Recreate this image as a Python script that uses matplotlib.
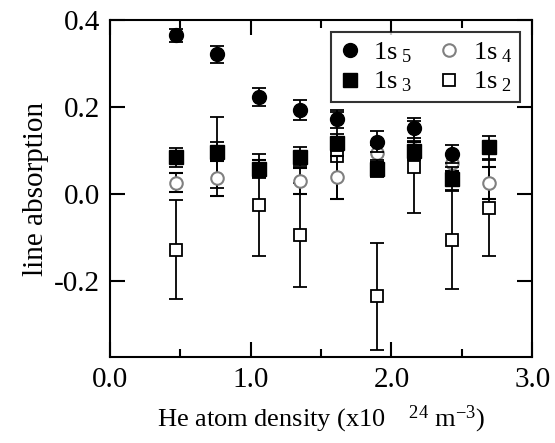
import numpy as np
import matplotlib.pyplot as plt
from matplotlib.ticker import MultipleLocator

plt.rcParams['font.family'] = 'Liberation Serif'
plt.rcParams['mathtext.fontset'] = 'custom'
plt.rcParams['mathtext.rm'] = 'Liberation Serif'
plt.rcParams['mathtext.it'] = 'Liberation Serif'

# densidad de He (x10^24 m^-3)
dens = [0.47, 0.76, 1.06, 1.35, 1.61, 1.90, 2.16, 2.43, 2.69]

# 1s5 (circulo lleno)
x_1s5 = [0.47, 0.76, 1.06, 1.35, 1.61, 1.90, 2.16, 2.43]
y_1s5 = [0.365, 0.321, 0.223, 0.192, 0.172, 0.120, 0.151, 0.091]
e_1s5 = [0.015, 0.019, 0.020, 0.023, 0.020, 0.024, 0.023, 0.021]

# 1s3 (cuadrado lleno)
y_1s3 = [0.084, 0.097, 0.058, 0.086, 0.118, 0.058, 0.099, 0.035, 0.107]
e_1s3 = [0.022, 0.022, 0.021, 0.022, 0.020, 0.020, 0.022, 0.026, 0.027]

# 1s4 (circulo abierto)
y_1s4 = [0.026, 0.036, 0.058, 0.030, 0.038, 0.093, 0.100, 0.072, 0.025]
e_1s4 = [0.022, 0.040, 0.020, 0.030, 0.050, 0.020, 0.020, 0.020, 0.037]

# 1s2 (cuadrado abierto)
y_1s2 = [-0.128, 0.095, -0.026, -0.095, 0.088, -0.235, 0.062, -0.106, -0.032]
e_1s2 = [0.113, 0.082, 0.117, 0.120, 0.100, 0.123, 0.105, 0.112, 0.110]

fig = plt.figure(figsize=(5.55, 4.43), dpi=100)
ax = fig.add_axes([0.198, 0.194, 0.761, 0.761])

eb = dict(ecolor='black', elinewidth=1.3, capsize=4.7, capthick=1.3, linestyle='none')

ax.errorbar(dens, y_1s2, yerr=e_1s2, marker='s', ms=9, mfc='white', mec='black', mew=1.3,
            label=r'1s$_{\ 2}$', zorder=2, **eb)
ax.errorbar(dens, y_1s4, yerr=e_1s4, marker='o', ms=9, mfc='white', mec='#808080', mew=1.5,
            label=r'1s$_{\ 4}$', zorder=3, **eb)
ax.errorbar(dens, y_1s3, yerr=e_1s3, marker='s', ms=10, mfc='black', mec='black',
            label=r'1s$_{\ 3}$', zorder=4, **eb)
ax.errorbar(x_1s5, y_1s5, yerr=e_1s5, marker='o', ms=10, mfc='black', mec='black',
            label=r'1s$_{\ 5}$', zorder=5, **eb)

ax.set_xlim(0, 3.0)
ax.set_ylim(-0.375, 0.4)
ax.xaxis.set_minor_locator(MultipleLocator(0.5))
ax.set_xticks([0, 1, 2, 3])
ax.set_xticklabels(['0.0', '1.0', '2.0', '3.0'])
ax.set_yticks([-0.2, 0.0, 0.2, 0.4])
ax.set_yticklabels(['-0.2', '0.0', '0.2', '0.4'])
ax.tick_params(which='both', direction='in', top=True, right=True, width=1.5, labelsize=21)
ax.tick_params(which='major', length=11, pad=7)
ax.tick_params(which='minor', length=6)
for s in ax.spines.values():
    s.set_linewidth(1.5)

ax.set_xlabel(r'He atom density (x10$^{\ \ \ \ \ 24}$ m$^{-3}$)', fontsize=19, labelpad=8)
ax.set_ylabel('line absorption', fontsize=21, labelpad=4)

h, l = ax.get_legend_handles_labels()
orden = [3, 2, 1, 0]
leg = ax.legend([h[i][0] for i in orden], [l[i] for i in orden], ncol=2, loc='upper right',
                fontsize=19, frameon=True, fancybox=False, edgecolor='black',
                handlelength=0.8, handletextpad=0.5, columnspacing=1.0,
                borderpad=0.3, labelspacing=0.2, borderaxespad=0,
                bbox_to_anchor=(0.972, 0.964))
leg.get_frame().set_linewidth(1.5)

fig.savefig('out.png', dpi=100)
